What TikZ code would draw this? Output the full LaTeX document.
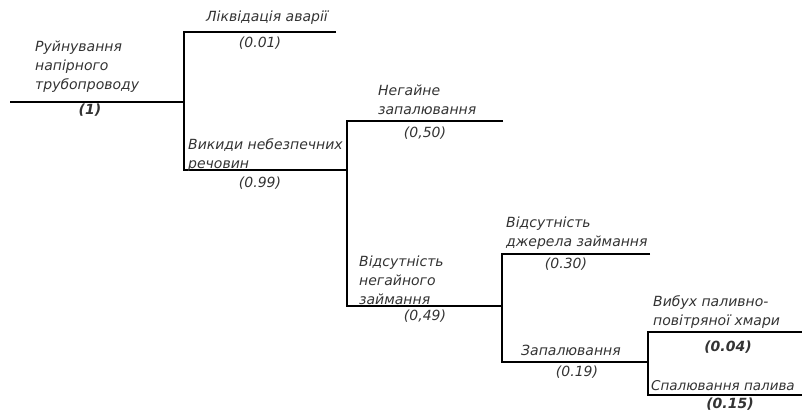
\documentclass[tikz,border=0pt]{standalone}
\usepackage{fontspec}
\setmainfont{DejaVu Sans}
\usetikzlibrary{positioning}

\begin{document}
\begin{tikzpicture}[
  x=1pt,y=-1pt,
  branch/.style={draw=black, line width=1.6pt, line join=miter},
  lbl/.style={font=\fontsize{14}{19}\selectfont\itshape, text=black!80,
    inner sep=0pt, align=left},
  evt/.style={lbl, anchor=west},
  prob/.style={lbl, anchor=center},
  probb/.style={prob, font=\fontsize{14}{19}\selectfont\itshape\bfseries}
]
\useasboundingbox (0,0) rectangle (802,412);

% tree junctions and free ends
\coordinate (start) at (10,102);
\coordinate (fork1) at (184,102);
\coordinate (fork1up) at (184,32);
\coordinate (fork1dn) at (184,170);
\coordinate (likv) at (336,32);
\coordinate (fork2) at (347,170);
\coordinate (fork2up) at (347,121);
\coordinate (fork2dn) at (347,306);
\coordinate (neg) at (503,121);
\coordinate (fork3) at (502,306);
\coordinate (fork3up) at (502,254);
\coordinate (fork3dn) at (502,362);
\coordinate (vids) at (650,254);
\coordinate (fork4) at (648,362);
\coordinate (fork4up) at (648,332);
\coordinate (fork4dn) at (648,395);
\coordinate (vybukh) at (802,332);
\coordinate (spal) at (802,395);

\draw[branch] (start) -- (fork1);
\draw[branch] (likv) -- (fork1up) -- (fork1dn) -- (fork2);
\draw[branch] (neg) -- (fork2up) -- (fork2dn) -- (fork3);
\draw[branch] (vids) -- (fork3up) -- (fork3dn) -- (fork4);
\draw[branch] (vybukh) -- (fork4up) -- (fork4dn) -- (spal);

% events
\node[evt] (t-rujn) at (35,67) {Руйнування\\напірного\\трубопроводу};
\node[lbl] (t-likv) at (267,18) {Ліквідація аварії};
\node[evt] (t-vykyd) at (188,155) {Викиди небезпечних\\речовин};
\node[evt] (t-neg) at (378,100) {Негайне\\запалювання};
\node[evt] (t-vids) at (506,233) {Відсутність\\джерела займання};
\node[evt] (t-vnz) at (359,280) {Відсутність\\негайного\\займання};
\node[lbl] (t-zap) at (571,350) {Запалювання};
\node[evt] (t-vybukh) at (653,312) {Вибух паливно-\\повітряної хмари};
\node[evt, font=\fontsize{13.5}{19}\selectfont\itshape] (t-spal) at (651,386) {Спалювання палива};

% probabilities
\foreach \nm/\x/\y/\val in {p-likv/260/43/{(0.01)}, p-vykyd/260/183/{(0.99)},
    p-neg/425/133/{(0,50)}, p-vids/566/264/{(0.30)}, p-vnz/425/316/{(0,49)},
    p-zap/577/372/{(0.19)}} {
  \node[prob] (\nm) at (\x,\y) {\val};
}
\node[probb] (p-rujn) at (90,110) {(1)};
\node[probb] (p-vybukh) at (728,347) {(0.04)};
\node[probb] (p-spal) at (730,404) {(0.15)};
\end{tikzpicture}
\end{document}
